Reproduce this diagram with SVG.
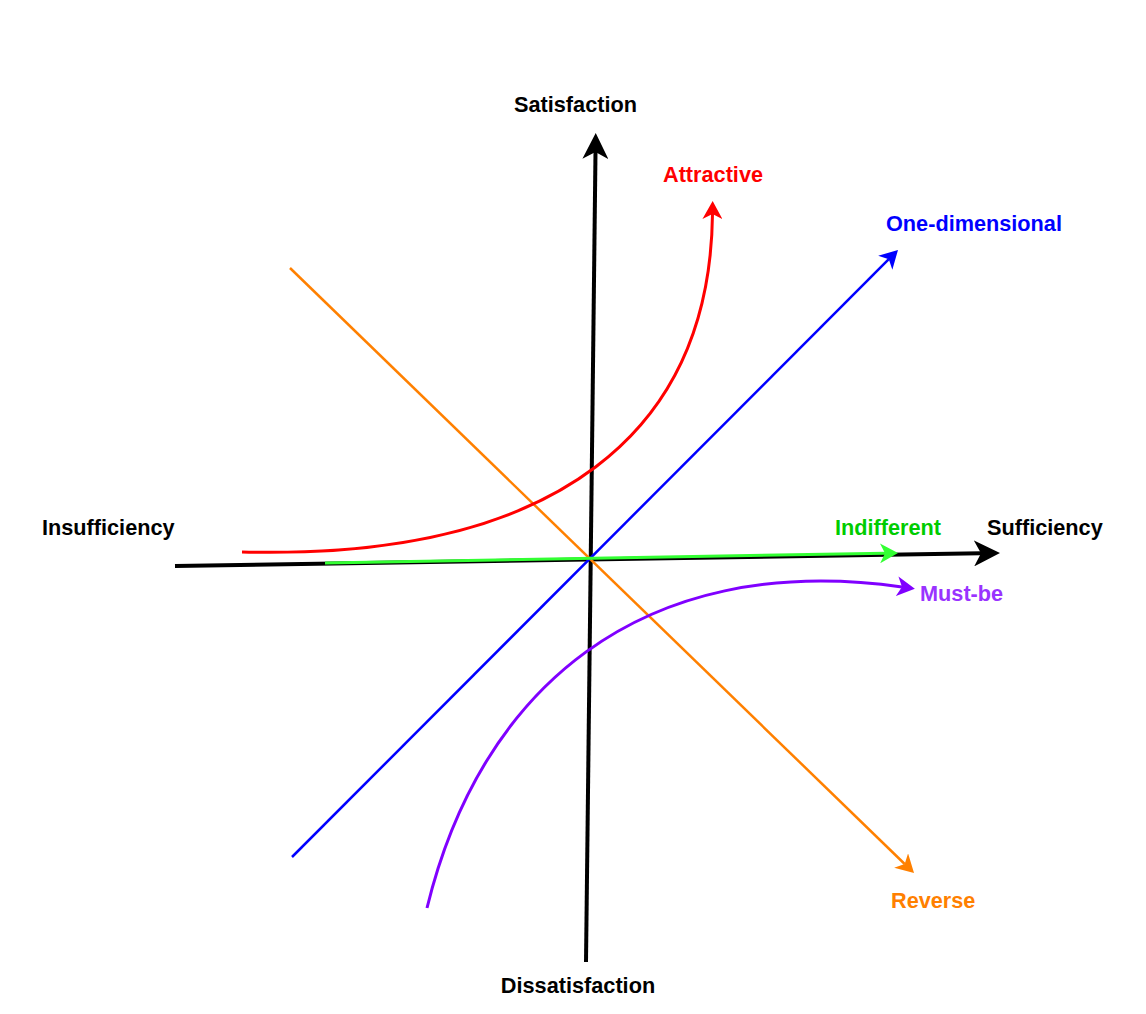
<svg xmlns="http://www.w3.org/2000/svg" width="1146" height="1014" viewBox="0 0 1146 1014">
<style>
text{font-family:"Liberation Sans",Arial,Helvetica,sans-serif;font-weight:bold;font-size:21.7px}
.ln{fill:none;stroke-linecap:butt}
</style>
<defs>
<marker id="aBlack" markerUnits="userSpaceOnUse" viewBox="0 0 26 26" markerWidth="26" markerHeight="26" refX="7" refY="13" orient="auto"><path d="M0,0 L26,13 L0,26 L7,13 Z" fill="#000"/></marker>
<marker id="aRed" markerUnits="userSpaceOnUse" viewBox="0 0 18 20" markerWidth="18" markerHeight="20" refX="5" refY="10" orient="auto"><path d="M0,0 L18,10 L0,20 L5,10 Z" fill="#FF0000"/></marker>
<marker id="aBlue" markerUnits="userSpaceOnUse" viewBox="0 0 18 20" markerWidth="18" markerHeight="20" refX="5" refY="10" orient="auto"><path d="M0,0 L18,10 L0,20 L5,10 Z" fill="#0000FF"/></marker>
<marker id="aGreen" markerUnits="userSpaceOnUse" viewBox="0 0 18 20" markerWidth="18" markerHeight="20" refX="5" refY="10" orient="auto"><path d="M0,0 L18,10 L0,20 L5,10 Z" fill="#33FF33"/></marker>
<marker id="aOrange" markerUnits="userSpaceOnUse" viewBox="0 0 18 20" markerWidth="18" markerHeight="20" refX="5" refY="10" orient="auto"><path d="M0,0 L18,10 L0,20 L5,10 Z" fill="#FF8000"/></marker>
<marker id="aPurple" markerUnits="userSpaceOnUse" viewBox="0 0 18 20" markerWidth="18" markerHeight="20" refX="5" refY="10" orient="auto"><path d="M0,0 L18,10 L0,20 L5,10 Z" fill="#8000FF"/></marker>
</defs>
<rect width="1146" height="1014" fill="#fff"/>
<g id="connectors">
<path id="axis-x" class="ln" d="M175,566 L981,553.3" stroke="#000" stroke-width="4" marker-end="url(#aBlack)"/>
<path id="axis-y" class="ln" d="M586,962 L595.5,152" stroke="#000" stroke-width="4" marker-end="url(#aBlack)"/>
<path id="reverse" class="ln" d="M290,268 L904.7,864" stroke="#FF8000" stroke-width="2.5" marker-end="url(#aOrange)"/>
<path id="one-dim" class="ln" d="M292,857 L888.8,259.2" stroke="#0000FF" stroke-width="2.5" marker-end="url(#aBlue)"/>
<path id="indifferent" class="ln" d="M325,563 L885,553.2" stroke="#33FF33" stroke-width="3" marker-end="url(#aGreen)"/>
<path id="attractive" class="ln" d="M242,552 C560,560 710,430 712.5,214" stroke="#FF0000" stroke-width="3" marker-end="url(#aRed)"/>
<path id="mustbe" class="ln" d="M427,908 C480,690 640,550 902,587" stroke="#8000FF" stroke-width="3" marker-end="url(#aPurple)"/>
</g>
<g id="label-satisfaction"><text x="575.5" y="112" text-anchor="middle" fill="#000">Satisfaction</text></g>
<g id="label-dissatisfaction"><text x="578" y="993" text-anchor="middle" fill="#000">Dissatisfaction</text></g>
<g id="label-insufficiency"><text x="42" y="535" fill="#000">Insufficiency</text></g>
<g id="label-sufficiency"><text x="987" y="535" fill="#000">Sufficiency</text></g>
<g id="label-attractive"><text x="713" y="182" text-anchor="middle" fill="#FF0000">Attractive</text></g>
<g id="label-onedim"><text x="886" y="231" fill="#0000FF">One-dimensional</text></g>
<g id="label-indifferent"><text x="835" y="535" fill="#00CC00">Indifferent</text></g>
<g id="label-mustbe"><text x="920" y="601" fill="#9933FF">Must-be</text></g>
<g id="label-reverse"><text x="891" y="908" fill="#FF8000">Reverse</text></g>
</svg>
